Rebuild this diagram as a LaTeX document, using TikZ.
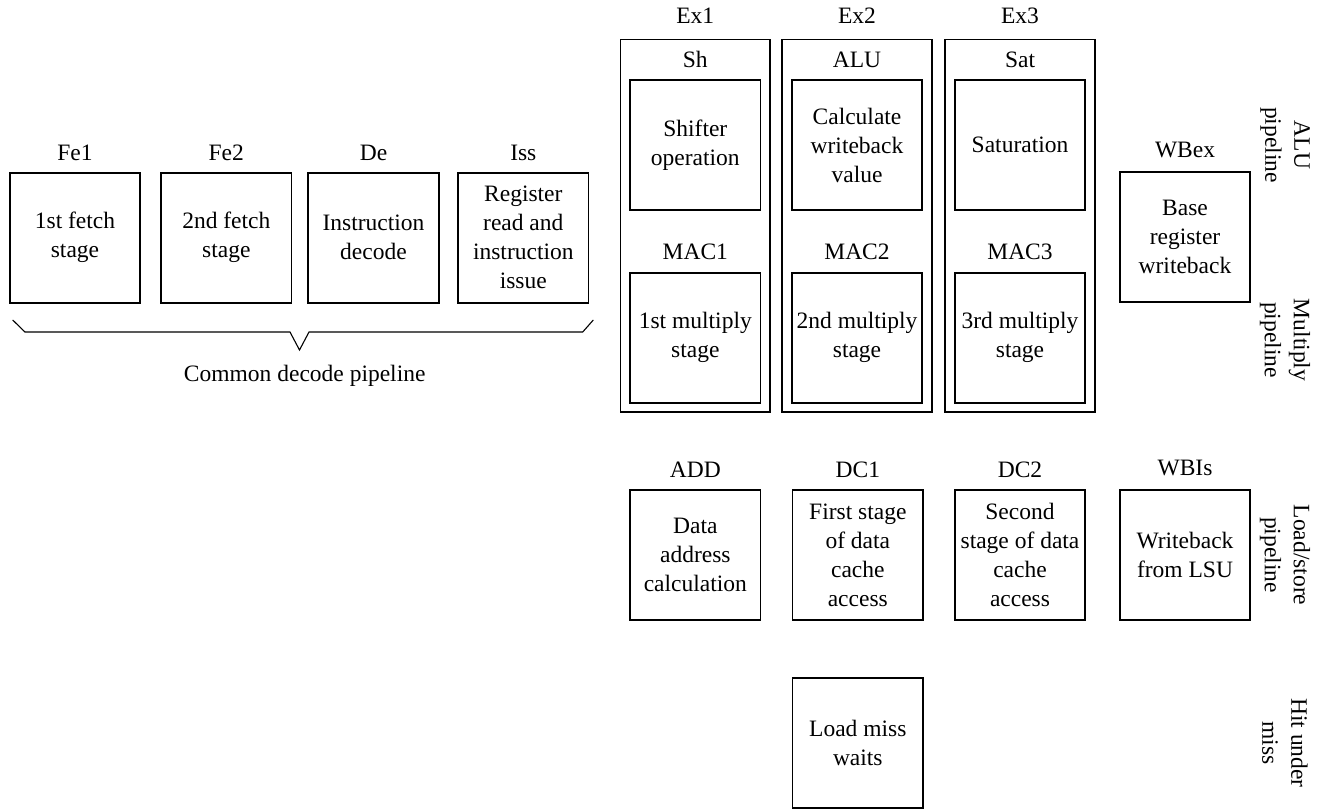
\documentclass[tikz,border=0pt]{standalone}
\usepackage{fontspec}
\setmainfont{Liberation Serif}
\begin{document}
\begin{tikzpicture}[x=1pt,y=-1pt,
  font=\fontsize{23.5}{29}\selectfont,
  box/.style={draw, line width=1.7pt, minimum width=130.5pt, minimum height=130pt, inner sep=0pt, align=center},
  outerbox/.style={draw, line width=1.8pt, minimum width=149.5pt, minimum height=372.5pt, inner sep=0pt},
  lbl/.style={anchor=base, inner sep=0pt},
  side/.style={rotate=-90, align=center, inner sep=0pt},
  bracepath/.style={line width=1.1pt}]
\useasboundingbox (0,0) rectangle (1321,809);

% common decode pipeline
\node[box] (fe1) at (75,237.7) {1st fetch\\stage};
\node[box] (fe2) at (226.3,237.7) {2nd fetch\\stage};
\node[box] (de) at (373.5,237.7) {Instruction\\decode};
\node[box] (iss) at (523.3,237.7) {Register\\read and\\instruction\\issue};
\node[lbl] (fe1l) at ([yshift=11.5pt]fe1.north) {Fe1};
\node[lbl] (fe2l) at ([yshift=11.5pt]fe2.north) {Fe2};
\node[lbl] (del) at ([yshift=11.5pt]de.north) {De};
\node[lbl] (issl) at ([yshift=11.5pt]iss.north) {Iss};

\coordinate (bl) at (12.7,320);
\coordinate (br) at (593.3,320);
\coordinate (btip) at (299.5,350);
\draw[bracepath] (bl) -- (25,332) -- (290,332) -- (btip) -- (309,332) -- (582.7,332) -- (br);
\node[lbl] (cdp) at (304.7,381.7) {Common decode pipeline};

% execute stages
\node[outerbox] (ex1) at (695.3,225.7) {};
\node[outerbox] (ex2) at (857,225.7) {};
\node[outerbox] (ex3) at (1020,225.7) {};
\node[lbl] (ex1l) at ([yshift=15pt]ex1.north) {Ex1};
\node[lbl] (ex2l) at ([yshift=15pt]ex2.north) {Ex2};
\node[lbl] (ex3l) at ([yshift=15pt]ex3.north) {Ex3};

\node[box] (sh) at (695.3,145) {Shifter\\operation};
\node[box] (alu) at (857,145) {Calculate\\writeback\\value};
\node[box] (sat) at (1020,145) {Saturation};
\node[box] (mac1) at (695.3,337.7) {1st multiply\\stage};
\node[box] (mac2) at (857,337.7) {2nd multiply\\stage};
\node[box] (mac3) at (1020,337.7) {3rd multiply\\stage};
\node[lbl] (shl) at ([yshift=12pt]sh.north) {Sh};
\node[lbl] (alul) at ([yshift=12pt]alu.north) {ALU};
\node[lbl] (satl) at ([yshift=12pt]sat.north) {Sat};
\node[lbl] (mac1l) at ([yshift=12.5pt]mac1.north) {MAC1};
\node[lbl] (mac2l) at ([yshift=12.5pt]mac2.north) {MAC2};
\node[lbl] (mac3l) at ([yshift=12.5pt]mac3.north) {MAC3};

\node[box] (wbex) at (1185,237) {Base\\register\\writeback};
\node[lbl] (wbexl) at ([yshift=14pt]wbex.north) {WBex};

% load/store pipeline
\node[box] (add) at (695.3,555) {Data\\address\\calculation};
\node[box] (dc1) at (857.8,555) {First stage\\of data\\cache\\access};
\node[box] (dc2) at (1020,555) {Second\\stage of data\\cache\\access};
\node[box] (wbls) at (1185,555) {Writeback\\from LSU};
\node[lbl] (addl) at ([yshift=12pt]add.north) {ADD};
\node[lbl] (dc1l) at ([yshift=12pt]dc1.north) {DC1};
\node[lbl] (dc2l) at ([yshift=12pt]dc2.north) {DC2};
\node[lbl] (wblsl) at ([yshift=13.5pt]wbls.north) {WBIs};

\node[box] (lmw) at (857.8,743) {Load miss\\waits};

% side labels
\node[side] (alup) at (1285,145) {ALU\\pipeline};
\node[side] (mulp) at (1285,340) {Multiply\\pipeline};
\node[side] (lsp) at (1285,555) {Load/store\\pipeline};
\node[side] (hum) at (1285,743) {Hit under\\miss};
\end{tikzpicture}
\end{document}
